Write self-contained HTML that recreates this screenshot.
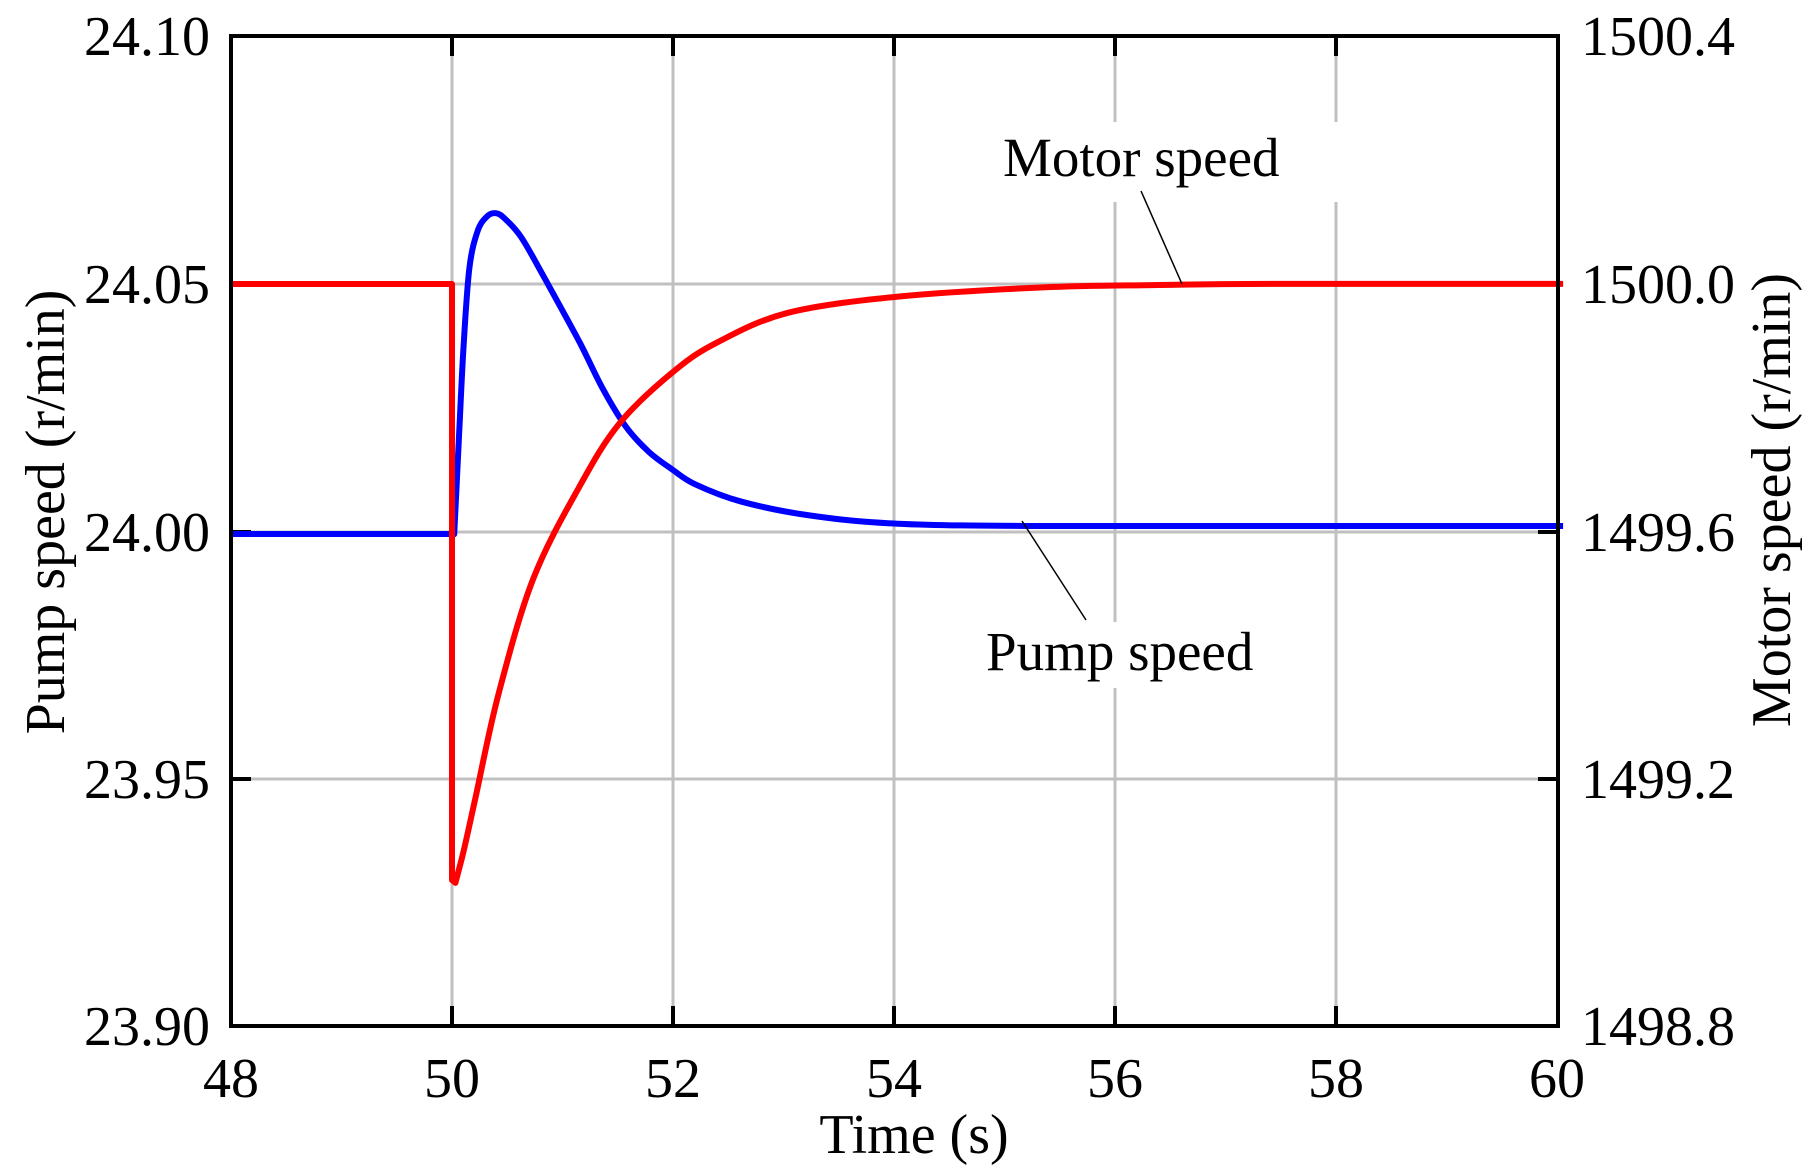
<!DOCTYPE html>
<html><head><style>body{margin:0;background:#fff}svg{display:block}text{font-family:"Liberation Serif",serif;fill:#000}</style></head>
<body>
<svg id="s" width="1811" height="1175" xmlns="http://www.w3.org/2000/svg">
<rect width="1811" height="1175" fill="#fff"/>
<g stroke="#c0c0c0" stroke-width="3">
<line x1="452" y1="36" x2="452" y2="1026"/><line x1="673" y1="36" x2="673" y2="1026"/><line x1="894" y1="36" x2="894" y2="1026"/><line x1="1115" y1="36" x2="1115" y2="1026"/><line x1="1336" y1="36" x2="1336" y2="1026"/>
<line x1="231" y1="284" x2="1558" y2="284"/><line x1="231" y1="532" x2="1558" y2="532"/><line x1="231" y1="779" x2="1558" y2="779"/>
</g>
<g stroke="#000" stroke-width="4">
<line x1="452" y1="36" x2="452" y2="56"/><line x1="673" y1="36" x2="673" y2="56"/><line x1="894" y1="36" x2="894" y2="56"/><line x1="1115" y1="36" x2="1115" y2="56"/><line x1="1336" y1="36" x2="1336" y2="56"/>
<line x1="452" y1="1026" x2="452" y2="1006"/><line x1="673" y1="1026" x2="673" y2="1006"/><line x1="894" y1="1026" x2="894" y2="1006"/><line x1="1115" y1="1026" x2="1115" y2="1006"/><line x1="1336" y1="1026" x2="1336" y2="1006"/>
<line x1="231" y1="284" x2="251" y2="284"/><line x1="231" y1="532" x2="251" y2="532"/><line x1="231" y1="779" x2="251" y2="779"/>
<line x1="1558" y1="284" x2="1538" y2="284"/><line x1="1558" y1="532" x2="1538" y2="532"/><line x1="1558" y1="779" x2="1538" y2="779"/>
</g>
<path id="blue" fill="none" stroke="#0000ff" stroke-width="6" stroke-linejoin="round"/>
<path id="red" fill="none" stroke="#ff0000" stroke-width="6" stroke-linejoin="round"/>
<rect x="231" y="36" width="1327" height="990" fill="none" stroke="#000" stroke-width="4"/>
<rect x="939" y="122" width="402" height="80" fill="#fff"/>
<rect x="939" y="622" width="364" height="66" fill="#fff"/>
<line x1="1141" y1="191" x2="1182" y2="284" stroke="#000" stroke-width="1.5"/>
<line x1="1022" y1="521" x2="1086" y2="620" stroke="#000" stroke-width="1.5"/>
<text x="1003" y="176" font-size="55">Motor speed</text>
<text x="986" y="670" font-size="55">Pump speed</text>
<g font-size="56" text-anchor="end">
<text x="210" y="55">24.10</text><text x="210" y="303">24.05</text><text x="210" y="551">24.00</text><text x="210" y="798">23.95</text><text x="210" y="1045">23.90</text>
</g>
<g font-size="56">
<text x="1581" y="55">1500.4</text><text x="1581" y="303">1500.0</text><text x="1581" y="551">1499.6</text><text x="1581" y="798">1499.2</text><text x="1581" y="1045">1498.8</text>
</g>
<g font-size="56" text-anchor="middle">
<text x="231" y="1097">48</text><text x="452" y="1097">50</text><text x="673" y="1097">52</text><text x="894" y="1097">54</text><text x="1115" y="1097">56</text><text x="1336" y="1097">58</text><text x="1557" y="1097">60</text>
<text x="914" y="1153">Time (s)</text>
<text transform="translate(64,512) rotate(-90)">Pump speed (r/min)</text>
<text transform="translate(1790,500) rotate(-90)">Motor speed (r/min)</text>
</g>
</svg>
<script>
const k=1.1587;
function cr(p){let d="";for(let i=0;i<p.length-1;i++){const a=p[i-1]||p[i],b=p[i],c=p[i+1],e=p[i+2]||c;d+=" C"+(b[0]+(c[0]-a[0])/6).toFixed(1)+","+(b[1]+(c[1]-a[1])/6).toFixed(1)+" "+(c[0]-(e[0]-b[0])/6).toFixed(1)+","+(c[1]-(e[1]-b[1])/6).toFixed(1)+" "+c[0].toFixed(1)+","+c[1].toFixed(1);}return d;}
const sc=p=>p.map(q=>[q[0]*k,q[1]*k]);
const blue=sc([[392,461],[396,380],[400,300],[405,232],[412,200],[420,187],[428,184],[436,189],[450,205],[470,240],[500,295],[520,335],[540,368],[560,390],[580,405],[600,418],[640,433],[700,445],[775,452],[900,454],[1100,454],[1349,454]]);
document.getElementById("blue").setAttribute("d","M231,534 L452,534 L"+blue[0][0].toFixed(1)+","+blue[0][1].toFixed(1)+cr(blue));
const red=sc([[393,762],[400,735],[410,690],[430,600],[460,500],[500,420],[535,365],[582,320],[620,295],[680,270],[775,256],[900,248],[1000,246],[1100,245],[1349,245]]);
document.getElementById("red").setAttribute("d","M231,284 L452,284 L452,880 L"+red[0][0].toFixed(1)+","+red[0][1].toFixed(1)+cr(red));
</script>
</body></html>
